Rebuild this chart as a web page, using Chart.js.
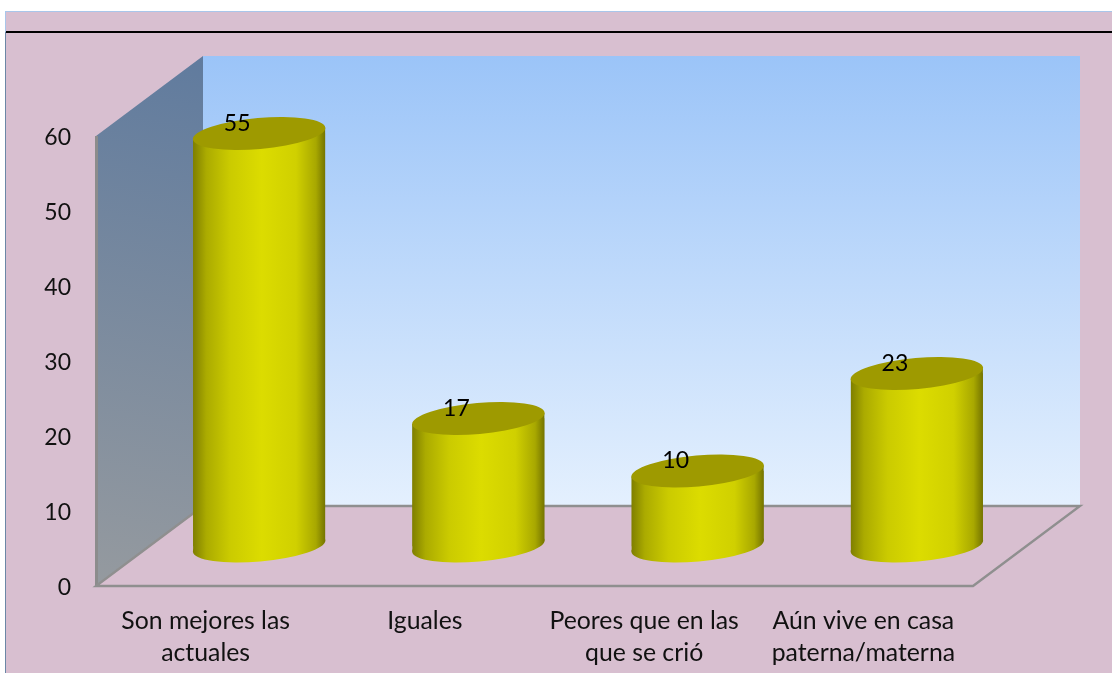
<!DOCTYPE html>
<html>
<head>
<meta charset="utf-8">
<style>
  html, body { margin: 0; padding: 0; background: #fff; }
  #wrap { position: relative; width: 1112px; height: 673px; }
</style>
<script src="https://cdn.jsdelivr.net/npm/chart.js@4/dist/chart.umd.min.js"></script>
</head>
<body>
<div id="wrap"><canvas id="chart" width="1112" height="673"></canvas></div>
<script>
const categories = [
  ['Son mejores las', 'actuales'],
  ['Iguales'],
  ['Peores que en las', 'que se crió'],
  ['Aún vive en casa', 'paterna/materna']
];
const values = [55, 17, 10, 23];
const yTicks = [0, 10, 20, 30, 40, 50, 60];

const FONT = 'Lato, Carlito, sans-serif';
const DEPTH_X = 107, DEPTH_Y = 80;
const HALF_W = 66, CAP_B = 15.5, CAP_TILT = -5 * Math.PI / 180;
const EDGE_DY = 5.5; // how far the ellipse ends sit off its centre line

function cylinderGradient(ctx, cx) {
  const g = ctx.createLinearGradient(cx - HALF_W, 0, cx + HALF_W, 0);
  g.addColorStop(0, '#7f7f00');
  g.addColorStop(0.1, '#abab00');
  g.addColorStop(0.28, '#cbcb00');
  g.addColorStop(0.52, '#dcdc00');
  g.addColorStop(0.78, '#d0d000');
  g.addColorStop(0.93, '#a8a800');
  g.addColorStop(1, '#757500');
  return g;
}

function sidePath(ctx, b) {
  ctx.moveTo(b.x - HALF_W, b.y + EDGE_DY);
  ctx.lineTo(b.x + HALF_W, b.y - EDGE_DY);
  ctx.lineTo(b.x + HALF_W, b.base - EDGE_DY);
  ctx.lineTo(b.x - HALF_W, b.base + EDGE_DY);
  ctx.closePath();
}

const scene = {
  id: 'scene',
  beforeDraw(chart) {
    const { ctx, width, height } = chart;
    ctx.save();
    ctx.fillStyle = '#fff';
    ctx.fillRect(0, 0, width, height);
    ctx.fillStyle = '#d8bfd0';
    ctx.fillRect(6, 11, width - 6, height - 11);
    ctx.fillStyle = '#a9c6ea';
    ctx.fillRect(5, 11, width - 5, 1);
    ctx.fillRect(5, 11, 1, 21);
    ctx.fillStyle = '#6b87a6';
    ctx.fillRect(5, 32, 1, height - 32);
    ctx.fillStyle = '#000';
    ctx.fillRect(6, 31, width - 6, 2);
    ctx.restore();
  },
  beforeDatasetsDraw(chart) {
    const { ctx, chartArea: a } = chart;
    const L = a.left, R = a.right, T = a.top, B = a.bottom;
    ctx.save();

    // back wall
    let g = ctx.createLinearGradient(0, T - DEPTH_Y, 0, B - DEPTH_Y);
    g.addColorStop(0, '#9bc4f8');
    g.addColorStop(1, '#e4f0fe');
    ctx.fillStyle = g;
    ctx.fillRect(L + DEPTH_X, T - DEPTH_Y, R - L, B - T);

    // side wall
    g = ctx.createLinearGradient(L + DEPTH_X, T - DEPTH_Y, L, B);
    g.addColorStop(0, '#607b9e');
    g.addColorStop(1, '#959a9f');
    ctx.fillStyle = g;
    ctx.beginPath();
    ctx.moveTo(L, T);
    ctx.lineTo(L + DEPTH_X, T - DEPTH_Y);
    ctx.lineTo(L + DEPTH_X, B - DEPTH_Y);
    ctx.lineTo(L, B);
    ctx.closePath();
    ctx.fill();
    ctx.fillStyle = '#8c8c8c';
    ctx.fillRect(L - 1, T, 3, B - T);

    // floor outline
    ctx.strokeStyle = '#8f8f8f';
    ctx.lineWidth = 2.4;
    ctx.beginPath();
    ctx.moveTo(L + DEPTH_X, B - DEPTH_Y);
    ctx.lineTo(L, B);
    ctx.lineTo(R, B);
    ctx.lineTo(R + DEPTH_X, B - DEPTH_Y);
    ctx.lineTo(L + DEPTH_X, B - DEPTH_Y);
    ctx.stroke();

    // bars sit half way back on the floor
    ctx.translate(DEPTH_X / 2, -DEPTH_Y / 2);
    const bars = chart.getDatasetMeta(0).data;
    bars.forEach(b => {
      ctx.fillStyle = cylinderGradient(ctx, b.x);
      ctx.beginPath();
      ctx.ellipse(b.x, b.base, HALF_W + 0.5, CAP_B, CAP_TILT, 0, Math.PI * 2);
      ctx.fill();
      ctx.beginPath();
      sidePath(ctx, b);
      ctx.fill();
    });
    ctx.beginPath();
    bars.forEach(b => sidePath(ctx, b));
    ctx.clip();
  },
  afterDatasetsDraw(chart) {
    const { ctx } = chart;
    ctx.restore();
    ctx.save();
    ctx.translate(DEPTH_X / 2, -DEPTH_Y / 2);
    const bars = chart.getDatasetMeta(0).data;
    bars.forEach((b, i) => {
      ctx.fillStyle = '#9e9a00';
      ctx.beginPath();
      ctx.ellipse(b.x, b.y, HALF_W + 0.5, CAP_B, CAP_TILT, 0, Math.PI * 2);
      ctx.fill();
      ctx.fillStyle = '#000';
      ctx.font = '23px ' + FONT;
      ctx.textAlign = 'center';
      ctx.textBaseline = 'middle';
      ctx.fillText(String(values[i]), b.x - 22, b.y - 10);
    });
    ctx.restore();
  }
};

new Chart('chart', {
  type: 'bar',
  data: {
    labels: categories,
    datasets: [{
      data: values,
      barThickness: HALF_W * 2,
      borderWidth: 0,
      clip: false,
      backgroundColor: c => cylinderGradient(c.chart.ctx, c.chart.scales.x.getPixelForTick(c.dataIndex))
    }]
  },
  options: {
    responsive: false,
    animation: false,
    events: [],
    layout: { padding: { top: 136, right: 139, left: 0, bottom: 0 } },
    plugins: { legend: { display: false }, tooltip: { enabled: false } },
    scales: {
      x: {
        afterFit: s => { s.height = 87; },
        grid: { display: false, drawTicks: false },
        border: { display: false },
        ticks: {
          color: '#111', padding: 19, maxRotation: 0, autoSkip: false,
          font: { family: FONT, size: 24.8, lineHeight: '32px' }
        }
      },
      y: {
        min: 0, max: 60,
        afterFit: s => { s.width = 96; },
        afterBuildTicks: s => { s.ticks = yTicks.map(v => ({ value: v })); },
        grid: { display: false, drawTicks: false },
        border: { display: false },
        ticks: {
          color: '#111', padding: 25, labelOffset: 2,
          font: { family: FONT, size: 23 }
        }
      }
    }
  },
  plugins: [scene]
});
</script>
</body>
</html>
